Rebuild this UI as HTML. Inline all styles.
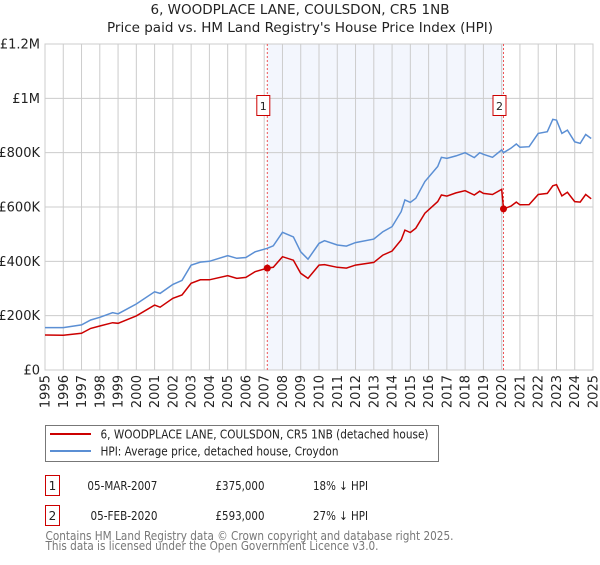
<!DOCTYPE html>
<html><head><meta charset="utf-8">
<style>
body{margin:0;background:#fff;font-family:"Liberation Sans","DejaVu Sans",sans-serif;}
svg text{font-family:"DejaVu Sans","Liberation Sans",sans-serif;}
</style></head>
<body>
<svg id="chart" width="600" height="560" xmlns="http://www.w3.org/2000/svg">
<text x="300" y="14" text-anchor="middle" font-size="13.5" fill="#222">6, WOODPLACE LANE, COULSDON, CR5 1NB</text>
<text x="300" y="32" text-anchor="middle" font-size="13.5" fill="#222">Price paid vs. HM Land Registry's House Price Index (HPI)</text>
<g id="plot"></g>
<g>
<rect x="45.5" y="425.5" width="393" height="36" fill="#fff" stroke="#777"/>
<line x1="50" y1="434" x2="91" y2="434" stroke="#cc0000" stroke-width="2"/>
<text x="100.5" y="438.5" font-size="12" textLength="328" lengthAdjust="spacingAndGlyphs" fill="#222">6, WOODPLACE LANE, COULSDON, CR5 1NB (detached house)</text>
<line x1="50" y1="451" x2="91" y2="451" stroke="#5b8fd4" stroke-width="2"/>
<text x="100.5" y="455.5" font-size="12" textLength="238" lengthAdjust="spacingAndGlyphs" fill="#222">HPI: Average price, detached house, Croydon</text>
</g>
<g font-size="12" fill="#222">
<rect x="45.5" y="475.5" width="14" height="20" fill="#fff" stroke="#cc0000"/>
<text x="52.5" y="490" text-anchor="middle">1</text>
<text x="87.4" y="490" textLength="70" lengthAdjust="spacingAndGlyphs">05-MAR-2007</text>
<text x="215.5" y="490" textLength="49" lengthAdjust="spacingAndGlyphs">£375,000</text>
<text x="313" y="490" textLength="55" lengthAdjust="spacingAndGlyphs">18% ↓ HPI</text>
<rect x="45.5" y="505.5" width="14" height="20" fill="#fff" stroke="#cc0000"/>
<text x="52.5" y="520" text-anchor="middle">2</text>
<text x="90.5" y="520" textLength="67" lengthAdjust="spacingAndGlyphs">05-FEB-2020</text>
<text x="215.5" y="520" textLength="49" lengthAdjust="spacingAndGlyphs">£593,000</text>
<text x="313" y="520" textLength="55" lengthAdjust="spacingAndGlyphs">27% ↓ HPI</text>
</g>
<text x="45.5" y="540" font-size="12" textLength="408" lengthAdjust="spacingAndGlyphs" fill="#777">Contains HM Land Registry data © Crown copyright and database right 2025.</text>
<text x="45.5" y="550" font-size="12" textLength="333" lengthAdjust="spacingAndGlyphs" fill="#777">This data is licensed under the Open Government Licence v3.0.</text>
</svg>
<script>
const years=[1995,1996,1997,1997.5,1998,1998.7,1999,2000,2001,2001.3,2002,2002.5,2003,2003.5,2004,2005,2005.5,2006,2006.5,2007.17,2007.5,2008,2008.6,2009,2009.4,2010,2010.3,2011,2011.5,2012,2013,2013.5,2014,2014.5,2014.7,2015,2015.3,2015.8,2016.5,2016.7,2017,2017.5,2018,2018.5,2018.8,2019,2019.5,2020.0,2020.1,2020.5,2020.8,2021,2021.5,2022,2022.5,2022.8,2023,2023.3,2023.6,2024,2024.3,2024.6,2024.9];
const hpiValues=[156,156,166,184,194,211,207,243,288,282,315,330,386,397,400,421,411,414,435,448,457,507,490,435,408,466,476,460,456,469,482,509,528,583,626,617,632,694,749,783,779,788,800,782,800,794,783,810,800,816,832,820,822,871,877,923,920,871,883,840,834,867,852];
const priceValues=[129,128,135,153,162,174,172,199,239,231,264,276,319,332,332,347,337,341,362,375,378,417,404,356,337,386,388,378,375,386,396,423,438,479,515,506,522,577,620,644,640,652,660,644,658,650,646,665,593,603,618,608,609,646,650,678,682,641,654,620,618,646,630];
const sales=[{n:"1",year:2007.17,price:375},{n:"2",year:2020.1,price:593}];
const yTicks=[0,200,400,600,800,1000,1200];
const yTickLabels=["£0","£200K","£400K","£600K","£800K","£1M","£1.2M"];
const xTicks=[1995,1996,1997,1998,1999,2000,2001,2002,2003,2004,2005,2006,2007,2008,2009,2010,2011,2012,2013,2014,2015,2016,2017,2018,2019,2020,2021,2022,2023,2024,2025];

const L=45,R=593,T=44,B=370;
const xs=y=>L+(y-1995)/(2025-1995)*(R-L);
const ys=v=>B-v/1200*(B-T);
const NS="http://www.w3.org/2000/svg";
const g=document.getElementById('plot');
function mk(tag,attrs){const e=document.createElementNS(NS,tag);for(const k in attrs)e.setAttribute(k,attrs[k]);g.appendChild(e);return e;}
let e=mk('rect',{x:xs(sales[0].year),y:T,width:xs(sales[1].year)-xs(sales[0].year),height:B-T,fill:'#eef2fc',opacity:'0.7'});


yTicks.forEach((v,i)=>{
 let l=mk('line',{x1:L,x2:R,y1:ys(v),y2:ys(v),stroke:'#cccccc','stroke-width':1});
 
 
 let t=mk('text',{x:40,y:ys(v)+4.5,'text-anchor':'end','font-size':13,fill:'#222'});
 t.textContent=yTickLabels[i];
 
 
});
xTicks.forEach(y=>{
 let l=mk('line',{x1:xs(y),x2:xs(y),y1:T,y2:B,stroke:'#cccccc','stroke-width':1});
 
 
 let t=mk('text',{x:0,y:0,'text-anchor':'end','font-size':13,fill:'#222',transform:`translate(${xs(y)+4.5},${B+5}) rotate(-90)`});
 t.textContent=y;
 
 
});
e=mk('rect',{x:L,y:T,width:R-L,height:B-T,fill:'none',stroke:'#cccccc'});


sales.forEach(s=>{
 let l=mk('line',{x1:xs(s.year),x2:xs(s.year),y1:T,y2:B,stroke:'#ee5555','stroke-width':1,'stroke-dasharray':'2,2'});
 
 
});
const pts=a=>a.map((v,i)=>xs(years[i]).toFixed(1)+','+ys(v).toFixed(1)).join(' ');
let hp=mk('polyline',{points:pts(hpiValues),fill:'none',stroke:'#5b8fd4','stroke-width':1.5});


let pp=mk('polyline',{points:pts(priceValues),fill:'none',stroke:'#cc0000','stroke-width':1.5});


sales.forEach(s=>{
 let c=mk('circle',{cx:xs(s.year),cy:ys(s.price),r:3.5,fill:'#cc0000'});
 
 
 let b=mk('rect',{x:xs(s.year)-10.5,y:95.5,width:13,height:20,fill:'#fff',stroke:'#cc0000'});
 
 
 let t=mk('text',{x:xs(s.year)-4,y:110,'text-anchor':'middle','font-size':11,fill:'#222'});
 t.textContent=s.n;
 
 
});
</script>
</body></html>
